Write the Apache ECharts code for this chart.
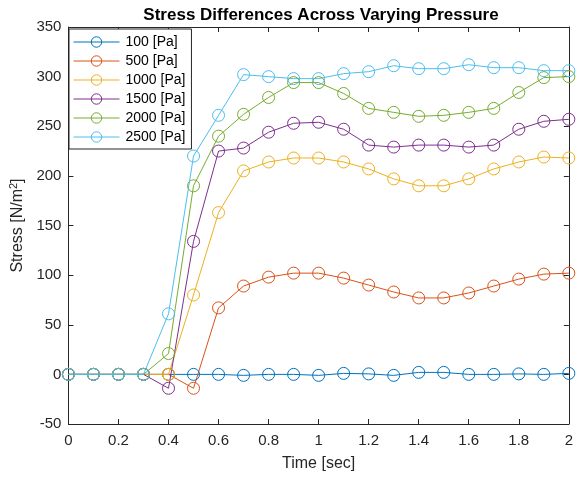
<!DOCTYPE html>
<html>
<head>
<meta charset="utf-8">
<script src="https://cdn.jsdelivr.net/npm/echarts@6/dist/echarts.min.js"></script>
<style>
  html, body { margin: 0; padding: 0; background: #fff; }
  #main { width: 576px; height: 477px; }
</style>
</head>
<body>
<div id="main"></div>
<script>
// time samples [sec]
const time = [0, 0.1, 0.2, 0.3, 0.4, 0.5, 0.6, 0.7, 0.8, 0.9, 1.0,
  1.1, 1.2, 1.3, 1.4, 1.5, 1.6, 1.7, 1.8, 1.9, 2.0];

// stress per pressure level [N/m^2]
const p100 = [0, 0, 0, 0, 0, 0, 0, -1, 0, 0, -1, 1, 0.5, -1, 2, 2, 0, 0, 0.5, 0, 1];
const p500 = [0, 0, 0, 0, 0, -14, 67, 89, 98, 102, 102, 97, 90, 83, 77, 77, 82, 89, 96, 101, 102];
const p1000 = [0, 0, 0, 0, 0, 80, 163, 205, 214, 218, 218, 214, 207, 197, 190, 190, 197, 207, 214, 219, 218];
const p1500 = [0, 0, 0, 0, -14, 134, 225, 228, 244, 253, 254, 247, 231, 229, 231, 231, 229, 231, 247, 255, 257];
const p2000 = [0, 0, 0, 0, 21, 190, 240, 262, 279, 294, 294, 283, 268, 264, 260, 261, 264, 268, 284, 299, 300];
const p2500 = [0, 0, 0, 0, 61, 220, 261, 302, 300, 298, 298, 303, 305, 311, 308, 308, 312, 309, 309, 306, 306];

const seriesNames = ["100 [Pa]", "500 [Pa]", "1000 [Pa]", "1500 [Pa]", "2000 [Pa]", "2500 [Pa]"];
const seriesValues = [p100, p500, p1000, p1500, p2000, p2500];

// MATLAB default line colors
const colors = ["#0072BD", "#D95319", "#EDB120", "#7E2F8E", "#77AC30", "#4DBEEE"];

const font = "'Liberation Sans', Arial, Helvetica, sans-serif";
const axisColor = "#262626";

var chart = echarts.init(document.getElementById("main"), null, { renderer: "canvas" });

const series = seriesNames.map((name, i) => ({
  name: name,
  type: "line",
  data: time.map((t, k) => [t, seriesValues[i][k]]),
  symbol: "circle",
  symbolSize: 12,
  showSymbol: true,
  lineStyle: { color: colors[i], width: 1 },
  itemStyle: { color: "rgba(0,0,0,0)", borderColor: colors[i], borderWidth: 1 },
  emphasis: { disabled: true },
  animation: false,
}));

// shared axis styling (box with inward ticks on all sides)
function boxAxis(extra) {
  return Object.assign({
    axisLine: { show: true, onZero: false, lineStyle: { color: axisColor, width: 1 } },
    axisTick: { show: true, inside: true, length: 5, lineStyle: { color: axisColor } },
    splitLine: { show: false },
  }, extra);
}

chart.setOption({
  backgroundColor: "#fff",
  animation: false,
  title: {
    text: "Stress Differences Across Varying Pressure",
    left: 316,
    textAlign: "center",
    top: 2,
    textStyle: { fontFamily: font, fontSize: 17, fontWeight: "bold", color: "#000" },
  },
  legend: {
    orient: "vertical",
    left: 69,
    top: 29,
    padding: [6, 6, 5, 4],
    itemGap: 5,
    itemWidth: 46,
    itemHeight: 13,
    backgroundColor: "#fff",
    borderColor: axisColor,
    borderWidth: 1,
    borderRadius: 0,
    lineStyle: { width: 1 },
    itemStyle: { borderWidth: 1 },
    textStyle: { fontFamily: font, fontSize: 14, color: "#000", padding: [0, 0, 0, 1] },
    data: seriesNames,
  },
  grid: { left: 64, right: 6, top: 27, bottom: 52, containLabel: false },
  xAxis: [
    boxAxis({
      type: "value",
      min: 0,
      max: 2,
      interval: 0.2,
      name: "Time [sec]",
      nameLocation: "middle",
      nameGap: 32,
      nameTextStyle: { fontFamily: font, fontSize: 16, color: axisColor },
      axisLabel: { fontFamily: font, fontSize: 15, color: axisColor, margin: 9 },
    }),
    boxAxis({
      type: "value",
      position: "top",
      min: 0,
      max: 2,
      interval: 0.2,
      axisLabel: { show: false },
    }),
  ],
  yAxis: [
    boxAxis({
      type: "value",
      min: -50,
      max: 350,
      interval: 50,
      name: "Stress [N/m{sup|2}]",
      nameLocation: "middle",
      nameGap: 36,
      nameTextStyle: {
        fontFamily: font, fontSize: 16, color: axisColor,
        rich: { sup: { fontFamily: font, fontSize: 11, color: axisColor, verticalAlign: "top", padding: [0, 0, 8, 0] } },
      },
      axisLabel: { fontFamily: font, fontSize: 15, color: axisColor, margin: 7 },
    }),
    boxAxis({
      type: "value",
      position: "right",
      min: -50,
      max: 350,
      interval: 50,
      axisLabel: { show: false },
    }),
  ],
  series: series,
});
</script>
</body>
</html>
